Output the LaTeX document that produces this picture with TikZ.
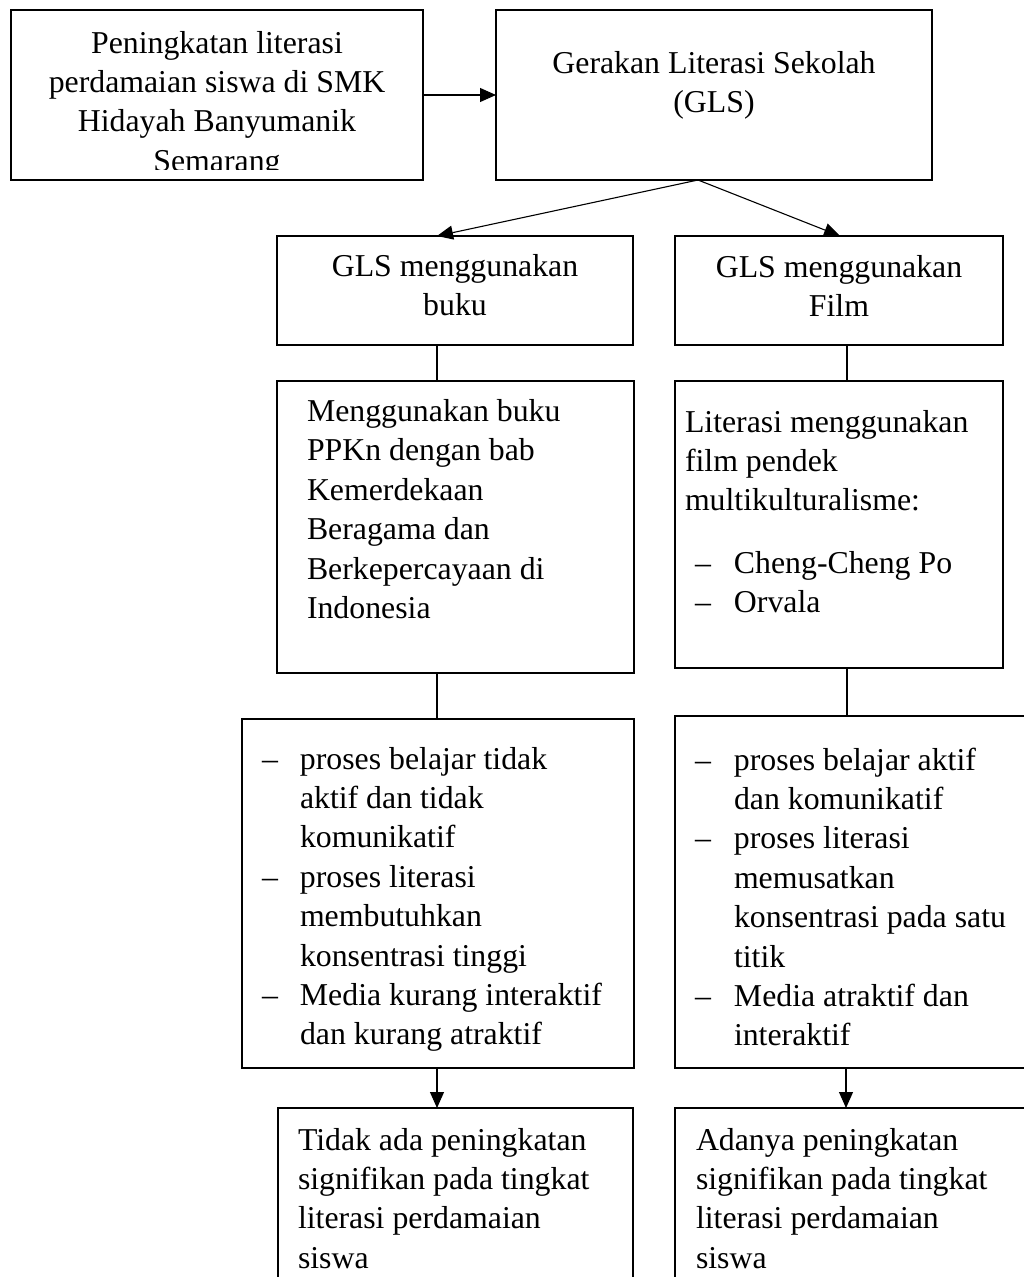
\documentclass[tikz,border=0pt]{standalone}
\usepackage{fontspec}
\setmainfont{Liberation Serif}
\usetikzlibrary{arrows.meta,calc}
\newcommand\mkbox[5]{\node[boxst, minimum width={#4-#2}, minimum height={#5-#3}] (#1) at ({(#2+#4)/2},{(#3+#5)/2}) {};}
\begin{document}
\begin{tikzpicture}[x=1pt,y=-1pt,
  boxst/.style={draw=black,line width=1.9pt,inner sep=0pt,outer sep=0pt},
  conn/.style={draw=black,line width=1.1pt},
  arr/.style={conn,-{Triangle[length=16pt,width=14pt]}},
  txt/.style={inner sep=0pt,outer sep=0pt,font=\fontsize{31.8}{39.4}\selectfont}]
\useasboundingbox (0,0) rectangle (1024,1277);
\fill[white] (0,0) rectangle (1024,1277);
\clip (0,0) rectangle (1024,1277);

% boxes
\mkbox{A}{11}{10}{423}{180}
\mkbox{B}{496}{10}{932}{180}
\mkbox{C}{277}{236}{633}{345}
\mkbox{D}{675}{236}{1003}{345}
\mkbox{E}{277}{381}{634}{673}
\mkbox{F}{675}{381}{1003}{668}
\mkbox{G}{242}{719}{634}{1068}
\mkbox{H}{675}{716}{1040}{1068}
\mkbox{I}{278}{1108}{633}{1300}
\mkbox{J}{675}{1108}{1040}{1300}

% texts
\begin{scope}
\clip (11,10) rectangle (423,169);
\node[txt,anchor=base] (tA) at (217,53) {\begin{tabular}[t]{@{}c@{}}Peningkatan literasi\\perdamaian siswa di SMK\\Hidayah Banyumanik\\Semarang\end{tabular}};
\end{scope}
\node[txt,anchor=base] (tB) at (714,73) {\begin{tabular}[t]{@{}c@{}}Gerakan Literasi Sekolah\\(GLS)\end{tabular}};
\node[txt,anchor=base] (tC) at (455,276) {\begin{tabular}[t]{@{}c@{}}GLS menggunakan\\buku\end{tabular}};
\node[txt,anchor=base] (tD) at (839,277) {\begin{tabular}[t]{@{}c@{}}GLS menggunakan\\Film\end{tabular}};
\node[txt,anchor=base west] (tE) at (307,421.5) {\begin{tabular}[t]{@{}l@{}}Menggunakan buku\\PPKn dengan bab\\Kemerdekaan\\Beragama dan\\Berkepercayaan di\\Indonesia\end{tabular}};
\node[txt,anchor=base west] (tF) at (685,432) {\begin{tabular}[t]{@{}l@{}}Literasi menggunakan\\film pendek\\multikulturalisme:\end{tabular}};
\node[txt,anchor=base west] (tFl) at (695,573) {\begin{tabular}[t]{@{}p{39pt}@{}l@{}}–&Cheng-Cheng Po\\–&Orvala\end{tabular}};
\node[txt,anchor=base west] (tG) at (262,769) {\begin{tabular}[t]{@{}p{38pt}@{}l@{}}–&proses belajar tidak\\&aktif dan tidak\\&komunikatif\\–&proses literasi\\&membutuhkan\\&konsentrasi tinggi\\–&Media kurang interaktif\\&dan kurang atraktif\end{tabular}};
\node[txt,anchor=base west] (tH) at (695,770) {\begin{tabular}[t]{@{}p{39pt}@{}l@{}}–&proses belajar aktif\\&dan komunikatif\\–&proses literasi\\&memusatkan\\&konsentrasi pada satu\\&titik\\–&Media atraktif dan\\&interaktif\end{tabular}};
\node[txt,anchor=base west] (tI) at (298,1150) {\begin{tabular}[t]{@{}l@{}}Tidak ada peningkatan\\signifikan pada tingkat\\literasi perdamaian\\siswa\end{tabular}};
\node[txt,anchor=base west] (tJ) at (696,1150) {\begin{tabular}[t]{@{}l@{}}Adanya peningkatan\\signifikan pada tingkat\\literasi perdamaian\\siswa\end{tabular}};

% connectors
\draw[arr] (A) -- (B);
\coordinate (Bs) at ([xshift=-16pt]B.south);
\draw[arr] (Bs) -- ([xshift=-18pt]C.north);
\draw[arr] (Bs) -- ([xshift=1pt]D.north);
\draw[conn] ([xshift=-18pt]C.south) -- ([xshift=-18pt]C.south |- E.north);
\draw[conn] ([xshift=8pt]D.south) -- ([xshift=8pt]D.south |- F.north);
\draw[conn] ([xshift=-18.5pt]E.south) -- ([xshift=-18.5pt]E.south |- G.north);
\draw[conn] ([xshift=8pt]F.south) -- ([xshift=8pt]F.south |- H.north);
\draw[arr] ([xshift=-1pt]G.south) -- ([xshift=-1pt]G.south |- I.north);
\draw[arr] ([xshift=-11.5pt]H.south) -- ([xshift=-11.5pt]H.south |- J.north);
\end{tikzpicture}
\end{document}
